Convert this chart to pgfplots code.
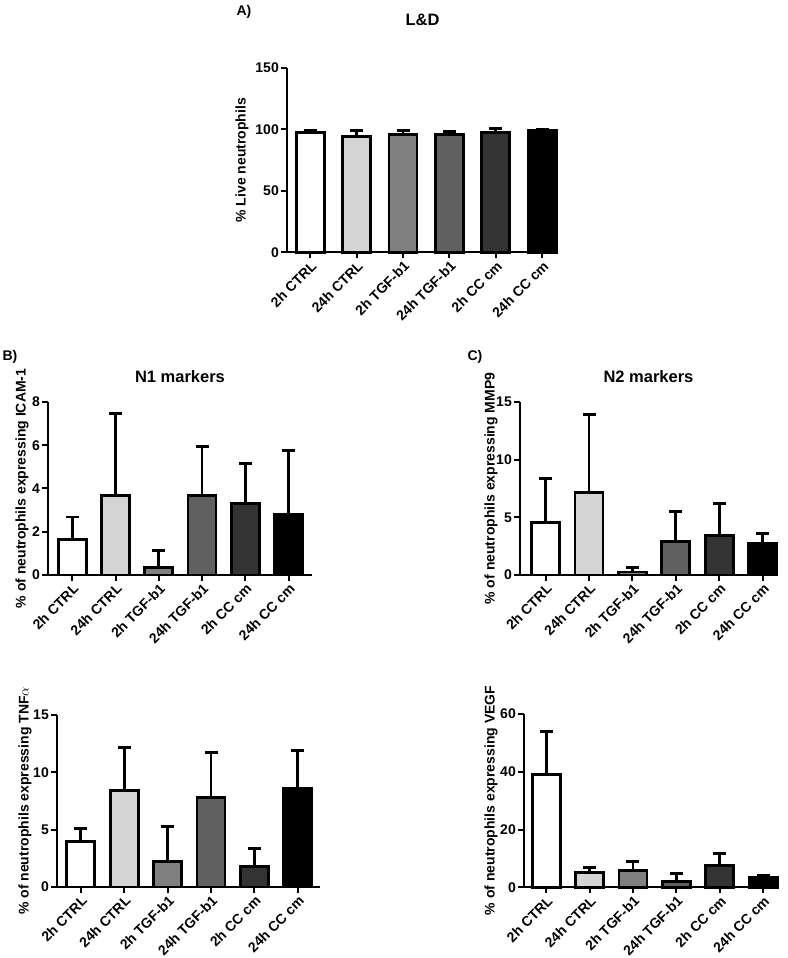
\documentclass[border=0pt]{standalone}
\usepackage{fontspec}
\setmainfont{Liberation Sans}
\usepackage{pgfplots}
\pgfplotsset{compat=1.18}
\definecolor{g1}{RGB}{255,255,255}
\definecolor{g2}{RGB}{212,212,212}
\definecolor{g3}{RGB}{128,128,128}
\definecolor{g4}{RGB}{96,96,96}
\definecolor{g5}{RGB}{51,51,51}
\definecolor{g6}{RGB}{0,0,0}
\newcommand{\tf}{\fontsize{14}{15}\selectfont\bfseries}
\pgfplotsset{panel/.style={
  scale only axis, axis lines=left, axis line style={-, line width=2pt},
  tick align=outside, major tick length=6pt, tick style={line width=2pt, black},
  xtick={0,...,5},
  xticklabels={2h CTRL,24h CTRL,2h TGF-b1,24h TGF-b1,2h CC cm,24h CC cm},
  x tick label style={rotate=45, anchor=north east, font=\tf, inner sep=1pt},
  y tick label style={font=\tf, inner sep=2pt},
  /pgf/number format/assume math mode=true,
  ymin=0, /pgf/bar width=28pt,
  ylabel style={font=\tf, anchor=center},
  title style={font=\fontsize{16.5}{17}\selectfont\bfseries, anchor=center},
  clip=false,
  error bars/y dir=plus, error bars/y explicit,
  error bars/error bar style={line width=2.8pt, black},
  error bars/error mark options={rotate=90, mark size=6.5pt, line width=2.8pt, black},
  every axis plot/.append style={draw=black, line width=2.8pt},
}}
\begin{document}
\begin{tikzpicture}
\path[use as bounding box] (0,0) rectangle (787pt,958pt);
\node[font=\tf] at (244pt,946pt) {A)};
\node[font=\tf] at (10pt,601pt) {B)};
\node[font=\tf] at (475pt,601pt) {C)};
% A
\begin{axis}[panel, at={(287pt,705.5pt)}, anchor=south west, width=271pt, height=184.5pt,
  xmin=-0.5, xmax=5.34, ymax=150, ytick={0,50,100,150},
  ylabel={\% Live neutrophils}, ylabel style={at={(axis description cs:-0.166,0.5)}},
  title={L\&D}, title style={at={(axis description cs:0.5,1)}, yshift=42pt}]
\addplot[ybar, fill=g1] coordinates {(0,97.8) +- (0,1.6)};
\addplot[ybar, fill=g2] coordinates {(1,94.6) +- (0,4.3)};
\addplot[ybar, fill=g3] coordinates {(2,96.2) +- (0,3.3)};
\addplot[ybar, fill=g4] coordinates {(3,95.9) +- (0,2.5)};
\addplot[ybar, fill=g5] coordinates {(4,97.8) +- (0,2.7)};
\addplot[ybar, fill=g6] coordinates {(5,98.9) +- (0,1.4)};
\end{axis}
% B
\begin{axis}[panel, at={(48pt,383pt)}, anchor=south west, width=264pt, height=173pt,
  xmin=-0.56, xmax=5.54, ymax=8, ytick={0,2,4,6,8},
  ylabel={\% of neutrophils expressing ICAM-1}, ylabel style={at={(axis description cs:-0.098,0.5)}},
  title={N1 markers}, title style={at={(axis description cs:0.5,1)}, yshift=19pt}]
\addplot[ybar, fill=g1] coordinates {(0,1.63) +- (0,1.05)};
\addplot[ybar, fill=g2] coordinates {(1,3.69) +- (0,3.79)};
\addplot[ybar, fill=g3] coordinates {(2,0.36) +- (0,0.77)};
\addplot[ybar, fill=g4] coordinates {(3,3.67) +- (0,2.26)};
\addplot[ybar, fill=g5] coordinates {(4,3.32) +- (0,1.83)};
\addplot[ybar, fill=g6] coordinates {(5,2.78) +- (0,2.96)};
\end{axis}
% C
\begin{axis}[panel, at={(520pt,383pt)}, anchor=south west, width=257pt, height=173pt,
  xmin=-0.59, xmax=5.33, ymax=15, ytick={0,5,10,15},
  ylabel={\% of neutrophils expressing MMP9}, ylabel style={at={(axis description cs:-0.113,0.5)}},
  title={N2 markers}, title style={at={(axis description cs:0.5,1)}, yshift=19pt}]
\addplot[ybar, fill=g1] coordinates {(0,4.52) +- (0,3.86)};
\addplot[ybar, fill=g2] coordinates {(1,7.16) +- (0,6.74)};
\addplot[ybar, fill=g3] coordinates {(2,0.26) +- (0,0.41)};
\addplot[ybar, fill=g4] coordinates {(3,2.87) +- (0,2.67)};
\addplot[ybar, fill=g5] coordinates {(4,3.39) +- (0,2.84)};
\addplot[ybar, fill=g6] coordinates {(5,2.70) +- (0,0.87)};
\end{axis}
% D
\begin{axis}[panel, at={(57pt,71pt)}, anchor=south west, width=263pt, height=172pt,
  xmin=-0.55, xmax=5.51, ymax=15, ytick={0,5,10,15},
  ylabel={\% of neutrophils expressing TNF$\alpha$}, ylabel style={at={(axis description cs:-0.122,0.5)}}]
\addplot[ybar, fill=g1] coordinates {(0,3.99) +- (0,1.10)};
\addplot[ybar, fill=g2] coordinates {(1,8.44) +- (0,3.76)};
\addplot[ybar, fill=g3] coordinates {(2,2.20) +- (0,3.09)};
\addplot[ybar, fill=g4] coordinates {(3,7.83) +- (0,3.90)};
\addplot[ybar, fill=g5] coordinates {(4,1.76) +- (0,1.62)};
\addplot[ybar, fill=g6] coordinates {(5,8.61) +- (0,3.29)};
\end{axis}
% E
\begin{axis}[panel, at={(524pt,70.5pt)}, anchor=south west, width=253pt, height=174pt,
  xmin=-0.51, xmax=5.32, ymax=60, ytick={0,20,40,60},
  ylabel={\% of neutrophils expressing VEGF}, ylabel style={at={(axis description cs:-0.13,0.5)}}]
\addplot[ybar, fill=g1] coordinates {(0,39.0) +- (0,14.9)};
\addplot[ybar, fill=g2] coordinates {(1,5.3) +- (0,1.7)};
\addplot[ybar, fill=g3] coordinates {(2,5.77) +- (0,3.13)};
\addplot[ybar, fill=g4] coordinates {(3,2.08) +- (0,2.88)};
\addplot[ybar, fill=g5] coordinates {(4,7.5) +- (0,4.15)};
\addplot[ybar, fill=g6] coordinates {(5,3.35) +- (0,0.92)};
\end{axis}
\end{tikzpicture}
\end{document}
